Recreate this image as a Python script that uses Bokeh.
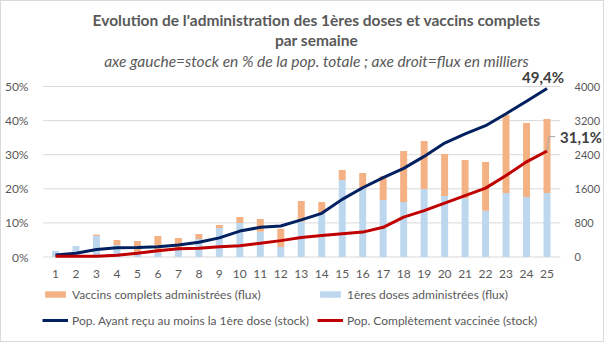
from bokeh.plotting import figure
from bokeh.models import (Range1d, LinearAxis, FixedTicker, Legend, LegendItem,
                          Title, Label, ColumnDataSource)
from bokeh.embed import file_html
from bokeh.resources import INLINE

# ---------------- data ----------------
weeks = list(range(1, 26))
week_labels = [str(w) for w in weeks]
# flux (thousands) - right axis
first_doses_flux = [141, 258, 493, 282, 80, 100, 180, 422, 680, 798, 594, 235, 829,
                    1025, 1806, 1611, 1337, 1290, 1595, 1431, 1376, 1087, 1502, 1408, 1502]
complete_flux = [0, 0, 31, 117, 295, 393, 266, 118, 71, 140, 298, 430, 485,
                 265, 235, 360, 556, 1197, 1126, 985, 900, 1142, 1837, 1736, 1736]
# stock (% of total population) - left axis
first_dose_stock_pct = [0.6, 1.1, 2.2, 2.7, 2.8, 3.0, 3.5, 4.3, 5.6, 7.6, 8.7, 9.1, 10.9,
                        12.8, 16.9, 20.3, 23.3, 26.0, 29.5, 33.4, 36.1, 38.5, 42.0, 45.7, 49.4]
complete_stock_pct = [0.2, 0.2, 0.2, 0.5, 1.1, 1.8, 2.4, 2.6, 3.0, 3.3, 4.0, 4.8, 5.7,
                      6.3, 6.8, 7.3, 8.7, 11.7, 13.6, 15.8, 18.0, 20.2, 23.9, 27.9, 31.1]
left_ticks = [0, 10, 20, 30, 40, 50]
left_tick_labels = ["0%", "10%", "20%", "30%", "40%", "50%"]
right_ticks = [0, 800, 1600, 2400, 3200, 4000]
label_first = "49,4%"
label_complete = "31,1%"

title1 = "Evolution de l'administration des 1ères doses et vaccins complets"
title2 = "par semaine"
subtitle = "axe gauche=stock en % de la pop. totale ; axe droit=flux en milliers"
legend_labels = ["Vaccins complets administrées (flux)",
                 "1ères doses administrées (flux)",
                 "Pop. Ayant reçu au moins la 1ère dose (stock)",
                 "Pop. Complètement vaccinée (stock)"]

# ---------------- style ----------------
FONT = "Lato"
GREY = "#595959"
DARK = "#404040"
ORANGE = "#F4B183"
LIGHTBLUE = "#BDD7EE"
NAVY = "#002060"
RED = "#C00000"
GRID = "#D9D9D9"

# ---------------- geometry (pixels) ----------------
W, H = 602, 340
BL, BR, BT, BB = 30, 2, 69, 2          # frame covers plot + legend area
frame_w = W - BL - BR
frame_h = H - BT - BB
band = 20.48                           # px per week
first_center_px = 55 - 1               # centre of week 1 from canvas left
zero_px = 255.5                        # canvas y of the 0 line
pct_px = 3.41                          # px per percentage point
x_start = 1 - (first_center_px - BL) / band
x_end = x_start + frame_w / band
y_top = (zero_px - BT) / pct_px
y_bot = -((BT + frame_h) - zero_px) / pct_px
flux_per_pct = 4000 / 50

p = figure(frame_width=frame_w, frame_height=frame_h,
           output_backend="svg", toolbar_location=None,
           x_range=Range1d(x_start, x_end), y_range=Range1d(y_bot, y_top),
           min_border_left=BL, min_border_right=BR, min_border_top=BT, min_border_bottom=BB,
           background_fill_color="white", border_fill_color="white",
           outline_line_color=None, title=None)
p.styles = {"border": "1px solid #D9D9D9"}
p.extra_y_ranges = {"flux": Range1d(y_bot * flux_per_pct, y_top * flux_per_pct)}

# horizontal gridlines at the left-axis ticks, limited to the category span
grid = p.segment(x0=[weeks[0] - 0.6] * len(left_ticks), x1=[weeks[-1] + 0.65] * len(left_ticks),
                 y0=left_ticks, y1=left_ticks, line_color=GRID, line_width=1)
grid.level = "underlay"

src = ColumnDataSource(dict(week=weeks, first=first_doses_flux, complete=complete_flux))
bars = p.vbar_stack(["first", "complete"], x="week", width=0.34, source=src,
                    color=[LIGHTBLUE, ORANGE], line_color=None, y_range_name="flux")
blue_r, orange_r = bars

navy_r = p.line(weeks, first_dose_stock_pct, line_color=NAVY, line_width=3)
red_r = p.line(weeks, complete_stock_pct, line_color=RED, line_width=3)

# leader line for the 31,1% label
lx = weeks[-1]
ly = complete_stock_pct[-1]
p.line([lx, lx + 0.1, lx + 0.4], [ly, ly + 4.2, ly + 4.2], line_color="#A6A6A6", line_width=1)

p.add_layout(Label(x=weeks[-1], y=first_dose_stock_pct[-1], text=label_first,
                   text_font=FONT, text_font_size="15px", text_font_style="bold",
                   text_color=DARK, text_align="center", text_baseline="bottom",
                   x_offset=-4, y_offset=3))
p.add_layout(Label(x=weeks[-1], y=complete_stock_pct[-1], text=label_complete,
                   text_font=FONT, text_font_size="15px", text_font_style="bold",
                   text_color=DARK, text_align="left", text_baseline="middle",
                   x_offset=13, y_offset=14))

# axes
p.xaxis.ticker = FixedTicker(ticks=weeks)
p.xaxis.major_label_overrides = {w: l for w, l in zip(weeks, week_labels)}
p.yaxis.ticker = FixedTicker(ticks=left_ticks)
p.yaxis.major_label_overrides = {t: l for t, l in zip(left_ticks, left_tick_labels)}
right_axis = LinearAxis(y_range_name="flux", ticker=FixedTicker(ticks=right_ticks))
p.add_layout(right_axis, "right")
for ax in [p.xaxis[0], p.yaxis[0], right_axis]:
    ax.axis_line_color = None
    ax.major_tick_line_color = None
    ax.minor_tick_line_color = None
    ax.major_label_text_font = FONT
    ax.major_label_text_font_size = "12px"
    ax.major_label_text_color = GREY
right_axis.major_label_text_font_size = "11px"
p.yaxis[0].major_label_standoff = -3
right_axis.major_label_standoff = -33
p.xaxis[0].major_label_standoff = -(BT + frame_h - 262)

p.xgrid.grid_line_color = None
p.ygrid.grid_line_color = None

# titles (added bottom-up), centred on the canvas
title_offset = (W / 2) - (BL + frame_w / 2)
p.add_layout(Title(text=subtitle, align="center", text_font=FONT, text_font_size="15.5px",
                   text_font_style="italic", text_color=GREY, standoff=2,
                   offset=title_offset), "above")
p.add_layout(Title(text=title2, align="center", text_font=FONT, text_font_size="15.5px",
                   text_font_style="bold", text_color=GREY, standoff=0,
                   offset=title_offset), "above")
p.add_layout(Title(text=title1, align="center", text_font=FONT, text_font_size="15.5px",
                   text_font_style="bold", text_color=GREY, standoff=0,
                   offset=title_offset), "above")

common = dict(orientation="horizontal", glyph_width=26, glyph_height=8, label_height=15,
              label_width=242, label_standoff=4, spacing=3, margin=0, padding=0,
              border_line_color=None, background_fill_alpha=0,
              label_text_font=FONT, label_text_font_size="12px", label_text_color=GREY)
frame_bottom = BT + frame_h
legend1 = Legend(items=[LegendItem(label=legend_labels[0], renderers=[orange_r]),
                        LegendItem(label=legend_labels[1], renderers=[blue_r])],
                 location=(41 - BL, frame_bottom - 300.5), **common)
legend2 = Legend(items=[LegendItem(label=legend_labels[2], renderers=[navy_r]),
                        LegendItem(label=legend_labels[3], renderers=[red_r])],
                 location=(41 - BL, frame_bottom - 326.5), **common)
p.add_layout(legend1, "center")
p.add_layout(legend2, "center")

open("out.html", "w").write(file_html(p, INLINE))
